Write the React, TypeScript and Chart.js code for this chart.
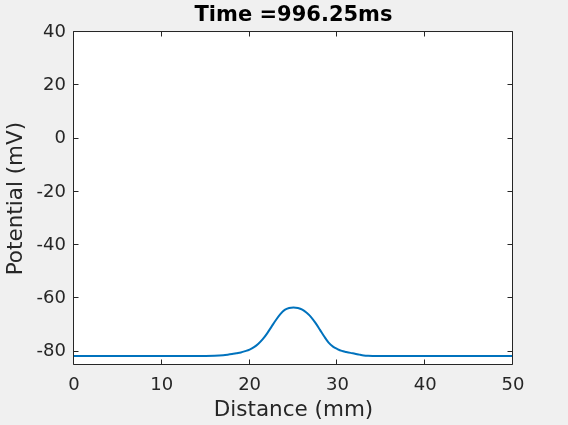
import React, { useEffect, useRef } from 'react';
import { Chart, registerables } from 'chart.js';

Chart.register(...registerables);

const titleText = 'Time =996.25ms';
const xLabel = 'Distance (mm)';
const yLabel = 'Potential (mV)';

const distance = [
  0, 15, 16, 17, 17.5, 18, 18.5, 19, 19.5, 20, 20.5, 21, 21.5, 22, 22.5, 23, 23.5, 24, 24.5, 25,
  25.5, 26, 26.5, 27, 27.5, 28, 28.5, 29, 29.5, 30, 30.5, 31, 31.5, 32, 32.5, 33, 33.5, 34, 50,
];
const potential = [
  -81.6, -81.6, -81.55, -81.35, -81.15, -80.9, -80.6, -80.3, -79.8, -79.2, -78.3, -77.0, -75.3,
  -73.1, -70.6, -68.1, -65.9, -64.3, -63.6, -63.4, -63.6, -64.2, -65.4, -67.0, -69.2, -71.7,
  -74.3, -76.6, -78.1, -79.0, -79.7, -80.1, -80.45, -80.75, -81.1, -81.4, -81.55, -81.6, -81.6,
];
const xTicks = [0, 10, 20, 30, 40, 50];
const yTicks = [-80, -60, -40, -20, 0, 20, 40];
const xRange = [0, 50];
const yRange = [-85, 40];

const FONT = "'DejaVu Sans', sans-serif";
const AXIS = '#262626';
const LINE = '#0072BD';
const TICK_LEN = 5;

const boxPlugin = {
  id: 'matlabBox',
  beforeDraw(chart: any) {
    const { ctx, chartArea: a } = chart;
    ctx.save();
    ctx.fillStyle = '#ffffff';
    ctx.fillRect(a.left, a.top, a.right - a.left, a.bottom - a.top);
    ctx.restore();
  },
  afterDraw(chart: any) {
    const { ctx, chartArea: a, scales } = chart;
    const L = Math.round(a.left) - 0.5;
    const R = Math.round(a.right) - 0.5;
    const T = Math.round(a.top) - 0.5;
    const B = Math.round(a.bottom) - 0.5;
    ctx.save();
    ctx.strokeStyle = AXIS;
    ctx.lineWidth = 1;
    ctx.beginPath();
    ctx.rect(L, T, R - L, B - T);
    ctx.stroke();
    ctx.beginPath();
    for (const v of xTicks) {
      const x = Math.round(scales.x.getPixelForValue(v)) - 0.5;
      ctx.moveTo(x, B);
      ctx.lineTo(x, B - TICK_LEN);
      ctx.moveTo(x, T);
      ctx.lineTo(x, T + TICK_LEN);
    }
    for (const v of yTicks) {
      const y = Math.round(scales.y.getPixelForValue(v)) - 0.5;
      ctx.moveTo(L, y);
      ctx.lineTo(L + TICK_LEN, y);
      ctx.moveTo(R, y);
      ctx.lineTo(R - TICK_LEN, y);
    }
    ctx.stroke();
    ctx.restore();
  },
};

export default function App() {
  const canvasRef = useRef<HTMLCanvasElement | null>(null);

  useEffect(() => {
    document.body.style.margin = '0';
    const canvas = canvasRef.current;
    if (!canvas) return;
    const points = distance.map((x, i) => ({ x, y: potential[i] }));
    const chart = new Chart(canvas, {
      type: 'line',
      data: {
        datasets: [
          {
            data: points,
            borderColor: LINE,
            borderWidth: 2,
            pointRadius: 0,
            fill: false,
            cubicInterpolationMode: 'monotone',
          },
        ],
      },
      plugins: [boxPlugin],
      options: {
        responsive: false,
        animation: false,
        devicePixelRatio: 1,
        layout: { padding: { left: 0, right: 55, top: 0, bottom: 0 } },
        plugins: {
          legend: { display: false },
          tooltip: { enabled: false },
          title: {
            display: true,
            text: titleText,
            fullSize: false,
            color: '#000000',
            font: { family: FONT, size: 21, weight: 'bold' },
            padding: { top: 3, bottom: 4 },
          },
        },
        scales: {
          x: {
            type: 'linear',
            min: xRange[0],
            max: xRange[1],
            afterBuildTicks: (s: any) => {
              s.ticks = xTicks.map((v) => ({ value: v }));
            },
            afterFit: (s: any) => {
              s.height = 60;
            },
            grid: { display: false, drawTicks: false },
            border: { display: false },
            ticks: {
              color: AXIS,
              font: { family: FONT, size: 18 },
              padding: 10,
              maxRotation: 0,
              autoSkip: false,
            },
            title: {
              display: true,
              text: xLabel,
              color: AXIS,
              font: { family: FONT, size: 21.5 },
              padding: { top: 0, bottom: 2 },
            },
          },
          y: {
            type: 'linear',
            min: yRange[0],
            max: yRange[1],
            afterBuildTicks: (s: any) => {
              s.ticks = yTicks.map((v) => ({ value: v }));
            },
            afterFit: (s: any) => {
              s.width = 74;
            },
            grid: { display: false, drawTicks: false },
            border: { display: false },
            ticks: {
              color: AXIS,
              font: { family: FONT, size: 18 },
              padding: 8,
              autoSkip: false,
            },
            title: {
              display: true,
              text: yLabel,
              color: AXIS,
              font: { family: FONT, size: 21.5 },
              padding: { top: 4, bottom: 0 },
            },
          },
        },
      },
    } as any);
    return () => chart.destroy();
  }, []);

  return (
    <div
      style={{
        position: 'fixed',
        left: 0,
        top: 0,
        width: 568,
        height: 425,
        background: '#f0f0f0',
      }}
    >
      <canvas ref={canvasRef} width={568} height={425} style={{ display: 'block' }} />
    </div>
  );
}
